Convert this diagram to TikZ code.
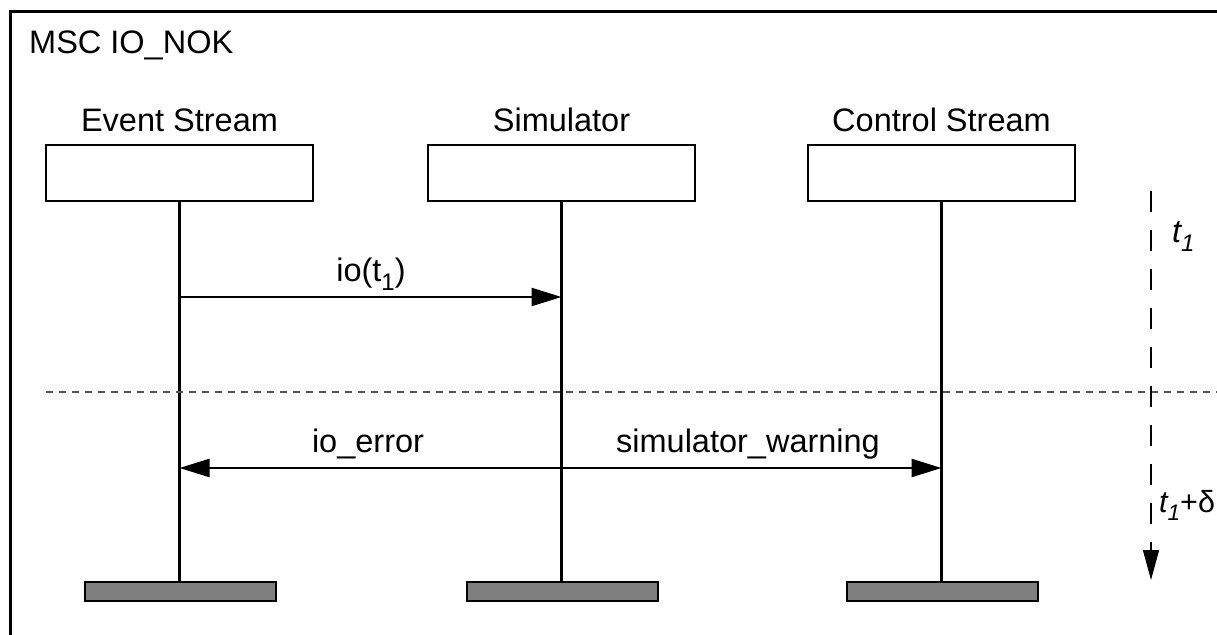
\documentclass[tikz,border=0pt]{standalone}
\usepackage{fontspec}
\setmainfont{Liberation Sans}
\usetikzlibrary{arrows.meta}
\definecolor{endgray}{HTML}{7F7F7F}
\definecolor{dotgray}{HTML}{555555}
\newcommand\lbl{\fontsize{32.5}{38}\selectfont}
\newcommand\lblsmall{\fontsize{30.5}{36}\selectfont}
\newcommand\subone{\raisebox{-0.28em}{\fontsize{24}{27}\selectfont 1}}
\newcommand\subonesmall{\raisebox{-0.28em}{\fontsize{22.5}{26}\selectfont 1}}
\begin{document}
\begin{tikzpicture}[x=1pt,y=-1pt,
  frame/.style={line width=3pt},
  lifebox/.style={draw,line width=1.5pt,fill=white,minimum width=267pt,minimum height=56pt,inner sep=0pt},
  endbox/.style={draw,line width=2.8pt,fill=endgray,minimum width=191pt,minimum height=19pt,inner sep=0pt},
  lifeline/.style={line width=3pt},
  msg/.style={line width=2.5pt,-{Triangle[length=30pt,width=18pt]}},
  title/.style={font=\lbl,anchor=base,inner sep=0pt},
  msglabel/.style={font=\lbl,anchor=base,inner sep=0pt},
  sep/.style={line width=1.5pt,dotgray,dash pattern=on 7pt off 6pt},
  timeaxis/.style={line width=1.5pt,dash pattern=on 21pt off 18pt,-{Triangle[length=30pt,width=16pt]}}
]
\useasboundingbox (0,0) rectangle (1217,634);
\clip (0,0) rectangle (1217,634);
% frame
\draw[frame] (10.5,700) -- (10.5,11.5) -- (1300,11.5);
\node[font=\lbl,anchor=base west,inner sep=0pt] (mscname) at (29,53) {MSC IO\_NOK};

% instance heads
\node[lifebox] (es) at (179.5,173) {};
\node[lifebox] (sim) at (561.5,173) {};
\node[lifebox] (cs) at (941.5,173) {};
\node[title] (esname) at (179.5,131) {Event Stream};
\node[title] (simname) at (561.5,131) {Simulator};
\node[title] (csname) at (941.5,131) {Control Stream};

% instance ends
\node[endbox] (esend) at (180.5,591.5) {};
\node[endbox] (simend) at (562.5,591.5) {};
\node[endbox] (csend) at (942.5,591.5) {};

% lifelines
\draw[lifeline] (es.south) -- (esend.north -| es.south);
\draw[lifeline] (sim.south) -- (simend.north -| sim.south);
\draw[lifeline] (cs.south) -- (csend.north -| cs.south);

% message coordinates
\coordinate (es1) at (179.5,297);
\coordinate (sim1) at (561.5,297);
\coordinate (es2) at (179.5,468);
\coordinate (sim2) at (561.5,468);
\coordinate (cs2) at (941.5,468);

\draw[msg] (es1) -- (sim1);
\node[msglabel] (io) at (371,281) {io(t\subone)};
\draw[msg] (sim2) -- (es2);
\draw[msg] (sim2) -- (cs2);
\node[msglabel] (ioerr) at (368,452) {io\_error};
\node[msglabel] (simwarn) at (748,452) {simulator\_warning};

% separator
\coordinate (sepL) at (46,392);
\coordinate (sepR) at (1230,392);
\draw[sep] (sepL) -- (sepR);

% time axis
\coordinate (ttop) at (1151,191);
\coordinate (tbot) at (1151,580);
\draw[timeaxis] (ttop) -- (tbot);
\node[font=\lbl,anchor=base west,inner sep=0pt] (t1) at (1172,242) {\itshape t\subone};
\node[font=\lblsmall,anchor=base west,inner sep=0pt] (t1d) at (1159,512) {{\itshape t\subonesmall}+δ};
\end{tikzpicture}
\end{document}
